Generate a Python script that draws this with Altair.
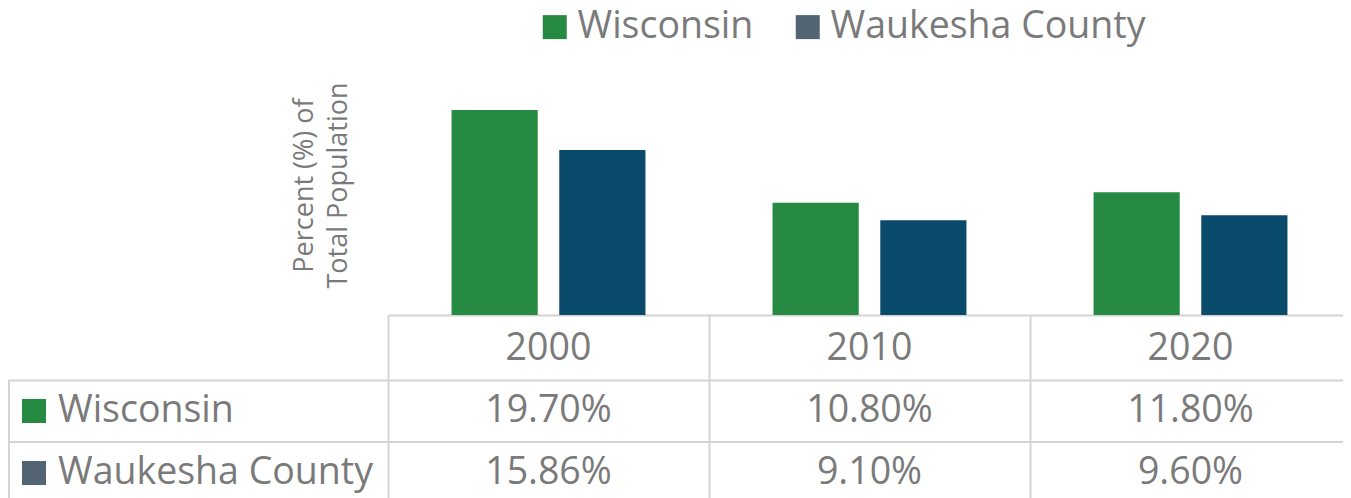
import altair as alt
import pandas as pd

years = ["2000", "2010", "2020"]
series = ["Wisconsin", "Waukesha County"]
wisconsin = [19.70, 10.80, 11.80]
waukesha = [15.86, 9.10, 9.60]
bar_colors = ["#268a43", "#0a4a6b"]
key_colors = ["#268a43", "#536475"]
rows = ["year"] + series
y_title = ["Percent (%) of", "Total Population"]

df = pd.DataFrame({
    "year": years * 2,
    "series": [series[0]] * 3 + [series[1]] * 3,
    "value": wisconsin + waukesha,
})
lab = pd.DataFrame({"series": series})
hdr = pd.DataFrame({"year": years, "row": ["year"] * 3})
one = pd.DataFrame({"k": [0]})

W, H = 1335, 490
FONT = "Open Sans"
GRAY = "#7a7a7a"
LINE = "#d4d4d4"
FS = 37.5

# the last table column runs off the right edge of the picture, as in the original
xs = alt.Scale(domain=years, range=[380, 1343], paddingInner=0, paddingOuter=0)
ys = alt.Scale(domain=[0, 25], range=[307, 47])
rs = alt.Scale(type="point", domain=rows, range=[341, 465], padding=0)

xaxis = alt.Axis(
    title=None, labels=False, domainColor=LINE, domainWidth=2,
    tickColor=LINE, tickWidth=2, tickSize=183, tickBand="extent", offset=-183)

bars = alt.Chart(df).mark_bar().encode(
    x=alt.X("year:N", scale=xs, axis=xaxis),
    xOffset=alt.XOffset("series:N", scale=alt.Scale(domain=series, paddingInner=0.2, paddingOuter=0.59)),
    y=alt.Y("value:Q", scale=ys, axis=alt.Axis(
        title=y_title, labels=False, ticks=False, domain=False, grid=False,
        offset=-380, titlePadding=36, titleFontSize=27, titleColor=GRAY,
        titleFont=FONT, titleFontWeight="normal", titleLineHeight=34)),
    color=alt.Color("series:N", scale=alt.Scale(domain=series, range=bar_colors), legend=None),
)

header = alt.Chart(hdr).mark_text(font=FONT, fontSize=FS, color=GRAY, baseline="middle").encode(
    x=alt.X("year:N", scale=xs, axis=xaxis),
    y=alt.Y("row:N", scale=rs, axis=None),
    text="year:N",
)

values = alt.Chart(df).transform_calculate(
    label="format(datum.value, '.2f') + '%'"
).mark_text(font=FONT, fontSize=FS, color=GRAY, baseline="middle").encode(
    x=alt.X("year:N", scale=xs, axis=xaxis),
    y=alt.Y("series:N", scale=rs, axis=None),
    text="label:N",
)

row_labels = alt.Chart(lab).mark_text(font=FONT, fontSize=FS, color=GRAY, align="left", baseline="middle").encode(
    x=alt.value(50),
    y=alt.Y("series:N", scale=rs, axis=None),
    text="series:N",
)

keys = alt.Chart(lab).mark_square(size=576, opacity=1, filled=True).encode(
    x=alt.value(26),
    y=alt.Y("series:N", scale=rs, axis=None),
    color=alt.Color("series:N", scale=alt.Scale(domain=series, range=key_colors), legend=alt.Legend(
        orient="none", legendX=528, legendY=0, direction="horizontal", title=None,
        symbolType="square", symbolSize=576, symbolStrokeWidth=0, symbolOpacity=1,
        labelFont=FONT, labelFontSize=FS, labelColor=GRAY, labelOffset=4, labelLimit=0,
        columnPadding=35, padding=0)),
)

hline1 = alt.Chart(one).mark_rule(color=LINE, strokeWidth=2).encode(
    x=alt.value(0), x2=alt.value(W), y=alt.value(372.5))
hline2 = alt.Chart(one).mark_rule(color=LINE, strokeWidth=2).encode(
    x=alt.value(0), x2=alt.value(W), y=alt.value(434))
vline = alt.Chart(one).mark_rule(color=LINE, strokeWidth=2).encode(
    x=alt.value(1), y=alt.value(372.5), y2=alt.value(H))

chart = alt.layer(
    hline1, hline2, vline, bars, header, values, row_labels, keys
).resolve_scale(
    y="independent", color="independent"
).properties(
    width=W, height=H, padding=0, autosize="none"
).configure_view(stroke=None)

chart.save("out.html", embed_options={"renderer": "svg", "actions": False})
